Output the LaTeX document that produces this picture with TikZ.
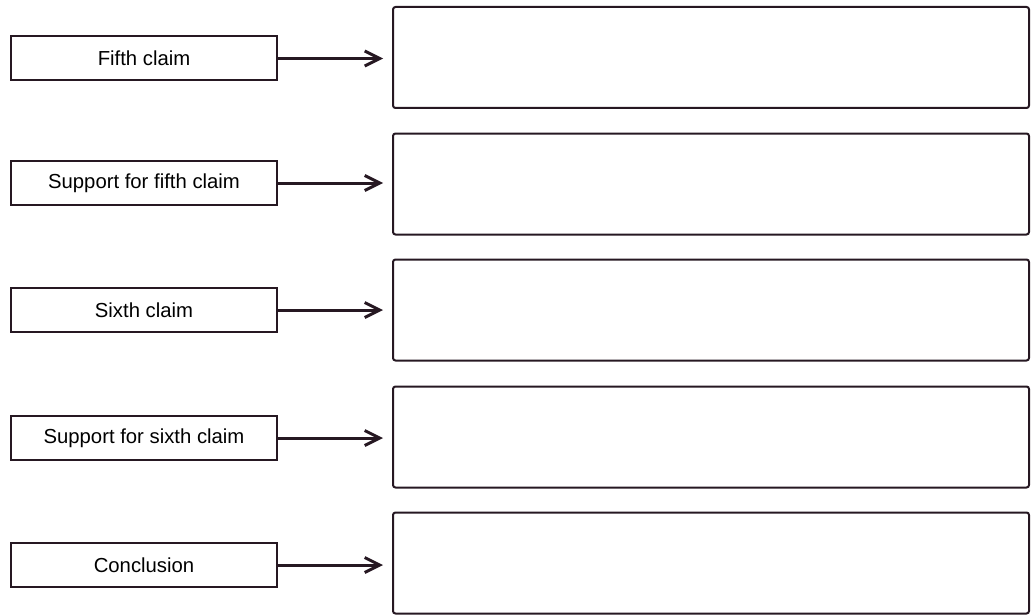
\documentclass[tikz,border=0pt]{standalone}
\usepackage{fontspec}
\setmainfont{Liberation Sans}
\usetikzlibrary{arrows.meta}
\definecolor{ink}{RGB}{38,24,34}
\begin{document}
\begin{tikzpicture}[x=1pt,y=-1pt,
  lbox/.style={draw=ink,line width=2pt,minimum width=266pt,minimum height=44pt,inner sep=0pt,font=\fontsize{20.3}{23}\selectfont,text=black},
  rbox/.style={draw=ink,line width=2pt,minimum width=636pt,minimum height=101pt,inner sep=0pt,rounded corners=2.5pt},
  arr/.style={draw=ink,line width=3pt,-{Straight Barb[length=15pt,width=15pt,line width=3pt]}}]
\useasboundingbox (0,0) rectangle (1032,615);
\node[lbox] (l1) at (144,58.5) {Fifth claim};
\node[lbox] (l2) at (144,183) {Support for fifth claim};
\node[lbox] (l3) at (144,310) {Sixth claim};
\node[lbox] (l4) at (144,438) {Support for sixth claim};
\node[lbox] (l5) at (144,565) {Conclusion};
\node[rbox] (r1) at (711,57.5) {};
\node[rbox] (r2) at (711,184) {};
\node[rbox] (r3) at (711,310) {};
\node[rbox] (r4) at (711,437) {};
\node[rbox] (r5) at (711,563) {};
\coordinate (t1) at (383,58.5);
\coordinate (t2) at (383,183);
\coordinate (t3) at (383,310);
\coordinate (t4) at (383,438);
\coordinate (t5) at (383,565);
\foreach \i in {1,...,5} \draw[arr] (l\i.east) -- (t\i);
\end{tikzpicture}
\end{document}
